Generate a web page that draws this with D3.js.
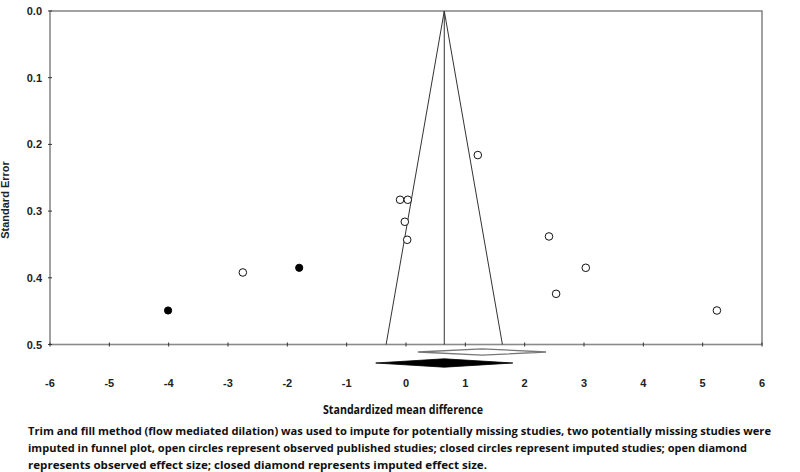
<!DOCTYPE html>
<html>
<head>
<meta charset="utf-8">
<script src="https://cdn.jsdelivr.net/npm/d3@7"></script>
<style>
  html, body { margin: 0; padding: 0; background: #fff; }
  svg { display: block; }
  .caption { font-family: "Open Sans", sans-serif; font-weight: 700; }
</style>
</head>
<body>
<svg id="chart" width="800" height="472"></svg>
<script>
// observed (open) studies: [smd, se]
const observedStudies = [
  [1.21, 0.216], [-0.10, 0.283], [0.03, 0.283], [-0.02, 0.316], [0.02, 0.343],
  [2.41, 0.338], [3.03, 0.385], [2.53, 0.424], [-2.75, 0.392], [5.24, 0.449]
];
// imputed (closed) studies
const imputedStudies = [[-1.80, 0.385], [-4.01, 0.449]];

const imputedMean = 0.645;
const observedDiamond = { center: 1.28, lower: 0.20, upper: 2.36 };
const imputedDiamond  = { center: 0.645, lower: -0.51, upper: 1.80 };

const xTicks = [-6, -5, -4, -3, -2, -1, 0, 1, 2, 3, 4, 5, 6];
const yTicks = [0, 0.1, 0.2, 0.3, 0.4, 0.5];

const caption = [
  "Trim and fill method (flow mediated dilation) was used to impute for potentially missing studies, two potentially missing studies were",
  "imputed in funnel plot, open circles represent observed published studies; closed circles represent imputed studies; open diamond",
  "represents observed effect size; closed diamond represents imputed effect size."
];
const captionWidths = [743, 719, 459];

const svg = d3.select("#chart");
const plotL = 50, plotR = 762, plotT = 11, plotB = 344.5;

const x = d3.scaleLinear().domain([-6, 6]).range([plotL, plotR]);
const y = d3.scaleLinear().domain([0, 0.5]).range([plotT, plotB]);

const axisGrey = "#8a8a8a";
const tickFont = "Liberation Sans, Arial, sans-serif";

// frame
svg.append("rect")
  .attr("x", plotL).attr("y", plotT)
  .attr("width", plotR - plotL).attr("height", plotB - plotT)
  .attr("fill", "none").attr("stroke", axisGrey).attr("stroke-width", 1.6);

// ticks on the bottom and left edges (small marks crossing the line)
svg.append("g").selectAll("line").data(xTicks).join("line")
  .attr("x1", d => x(d)).attr("x2", d => x(d))
  .attr("y1", plotB - 2).attr("y2", plotB + 2)
  .attr("stroke", "#333").attr("stroke-width", 1);
svg.append("g").selectAll("line").data(yTicks).join("line")
  .attr("x1", plotL - 2).attr("x2", plotL + 2)
  .attr("y1", d => y(d)).attr("y2", d => y(d))
  .attr("stroke", "#333").attr("stroke-width", 1);

// tick labels
svg.append("g").selectAll("text").data(xTicks).join("text")
  .attr("x", d => x(d)).attr("y", 387)
  .attr("text-anchor", "middle")
  .attr("font-family", tickFont).attr("font-weight", 700).attr("font-size", 11)
  .attr("fill", "#222")
  .text(d => d);
svg.append("g").selectAll("text").data(yTicks).join("text")
  .attr("x", 42).attr("y", d => y(d) + 4)
  .attr("text-anchor", "end")
  .attr("font-family", tickFont).attr("font-weight", 700).attr("font-size", 11)
  .attr("fill", "#222")
  .text(d => d.toFixed(1));

// axis titles
svg.append("text")
  .attr("transform", "translate(9,200) rotate(-90)")
  .attr("text-anchor", "middle")
  .attr("font-family", tickFont).attr("font-weight", 700).attr("font-size", 11)
  .attr("fill", "#222")
  .text("Standard Error");
svg.append("text")
  .attr("class", "caption")
  .attr("x", 323).attr("y", 414)
  .attr("font-size", 12.5).attr("fill", "#111")
  .attr("textLength", 160).attr("lengthAdjust", "spacingAndGlyphs")
  .text("Standardized mean difference");

// funnel + mean line
const seMax = 0.5;
svg.append("path")
  .attr("d", d3.line()([
    [x(imputedMean - 1.96 * seMax), y(seMax)],
    [x(imputedMean), y(0)],
    [x(imputedMean + 1.96 * seMax), y(seMax)]
  ]))
  .attr("fill", "none").attr("stroke", "#333").attr("stroke-width", 1);
svg.append("line")
  .attr("x1", x(imputedMean)).attr("x2", x(imputedMean))
  .attr("y1", y(0)).attr("y2", y(seMax))
  .attr("stroke", "#333").attr("stroke-width", 1);

// diamonds below the axis
function diamond(d, cy, h) {
  return d3.line()([
    [x(d.lower), cy], [x(d.center), cy - h], [x(d.upper), cy], [x(d.center), cy + h]
  ]) + "Z";
}
svg.append("path")
  .attr("d", diamond(observedDiamond, 352, 3.2))
  .attr("fill", "#fff").attr("stroke", "#777").attr("stroke-width", 1.3);
svg.append("path")
  .attr("d", diamond(imputedDiamond, 363, 4.2))
  .attr("fill", "#000").attr("stroke", "#000").attr("stroke-width", 0.8);

// studies
svg.append("g").selectAll("circle").data(observedStudies).join("circle")
  .attr("cx", d => x(d[0])).attr("cy", d => y(d[1]))
  .attr("r", 3.8)
  .attr("fill", "#fff").attr("stroke", "#111").attr("stroke-width", 1);
svg.append("g").selectAll("circle").data(imputedStudies).join("circle")
  .attr("cx", d => x(d[0])).attr("cy", d => y(d[1]))
  .attr("r", 3.6)
  .attr("fill", "#000").attr("stroke", "#000").attr("stroke-width", 1);

// caption
svg.append("g").selectAll("text").data(caption).join("text")
  .attr("class", "caption")
  .attr("x", 28).attr("y", (d, i) => 435 + i * 17)
  .attr("font-size", 11.1).attr("fill", "#111")
  .attr("textLength", (d, i) => captionWidths[i])
  .attr("lengthAdjust", "spacingAndGlyphs")
  .text(d => d);
</script>
</body>
</html>
